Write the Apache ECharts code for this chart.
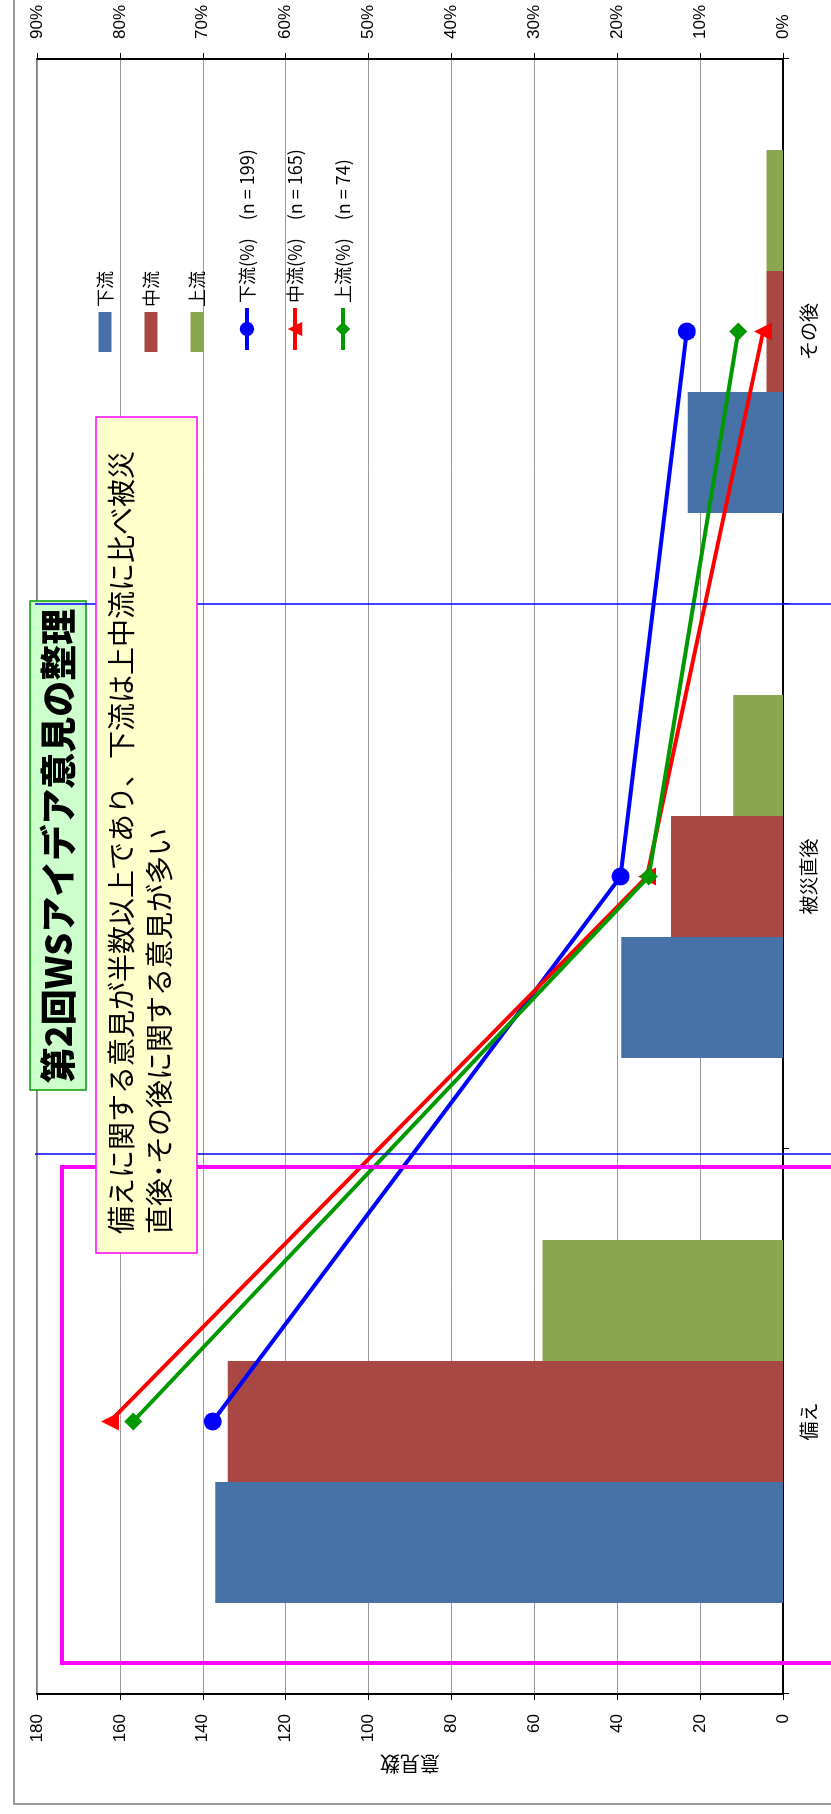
<!DOCTYPE html>
<html>
<head>
<meta charset="utf-8">
<script src="https://cdn.jsdelivr.net/npm/echarts@6/dist/echarts.min.js"></script>
<style>
  html, body { margin: 0; padding: 0; width: 831px; height: 1814px; overflow: hidden; background: #fff; }
  /* the chart is laid out in landscape and turned a quarter turn counter-clockwise */
  #chart { position: absolute; left: 0; top: 0; width: 1814px; height: 831px;
           transform-origin: 0 0; transform: translateY(1814px) rotate(-90deg); }
</style>
</head>
<body>
<div id="chart"></div>
<script>
// phases of the disaster timeline
const categories = ['備え', '被災直後', 'その後'];

// number of opinions per area
const downstream = [137, 39, 23];
const midstream  = [134, 27, 4];
const upstream   = [58, 12, 4];

// share of each area's opinions (%)
const downstreamPct = [68.8, 19.6, 11.6];
const midstreamPct  = [81.2, 16.4, 2.4];
const upstreamPct   = [78.4, 16.2, 5.4];

// axis ranges
const countMax = 180, countStep = 20;
const pctMax = 90, pctStep = 10;

const seriesNames = ['下流', '中流', '上流',
  '下流(%)　(n = 199)', '中流(%)　(n = 165)', '上流(%)　(n = 74)'];

const jp = "'Noto Sans CJK JP', sans-serif";
const num = "'Liberation Sans', Arial, sans-serif";

const chart = echarts.init(document.getElementById('chart'), null,
  { renderer: 'canvas', width: 1814, height: 831 });

const barBase = { type: 'bar', barWidth: 121, barGap: '0%' };
const lineBase = { type: 'line', yAxisIndex: 1, symbolSize: 18, z: 5 };
const legendText = { fontSize: 18, color: '#000', fontFamily: jp };

chart.setOption({
  animation: false,
  backgroundColor: '#ffffff',
  textStyle: { fontFamily: jp },
  grid: { left: 120, right: 59, top: 37, bottom: 48, show: true,
          borderColor: '#000', borderWidth: 1, backgroundColor: 'transparent' },
  legend: [
    { // count series
      orient: 'vertical', left: 1462, top: 96, padding: 0,
      itemWidth: 40, itemHeight: 13, itemGap: 28, textStyle: legendText,
      data: [
        { name: seriesNames[0], icon: 'rect' },
        { name: seriesNames[1], icon: 'rect' },
        { name: seriesNames[2], icon: 'rect' }
      ]
    },
    { // share series
      orient: 'vertical', left: 1462, top: 238, padding: 0,
      itemWidth: 42, itemHeight: 18, itemGap: 30, textStyle: legendText,
      lineStyle: { width: 4 },
      data: [seriesNames[3], seriesNames[4], seriesNames[5]]
    }
  ],
  xAxis: {
    type: 'category', data: categories, boundaryGap: true,
    axisLine: { lineStyle: { color: '#000', width: 2 } },
    axisTick: { show: true, length: 6, lineStyle: { color: '#000', width: 1 } },
    axisLabel: { fontSize: 19, color: '#000', margin: 16, fontFamily: jp },
    splitLine: { show: false }
  },
  yAxis: [
    {
      type: 'value', min: 0, max: countMax, interval: countStep,
      name: '意見数', nameLocation: 'middle', nameRotate: 90, nameGap: 60,
      nameTextStyle: { fontSize: 20, color: '#000', fontFamily: jp },
      axisLine: { show: true, lineStyle: { color: '#000', width: 2 } },
      axisTick: { show: true, length: 6, lineStyle: { color: '#000', width: 1 } },
      axisLabel: { fontSize: 17, color: '#000', margin: 20, fontFamily: num },
      splitLine: { show: true, lineStyle: { color: '#999', width: 1 } }
    },
    {
      type: 'value', position: 'right', min: 0, max: pctMax, interval: pctStep,
      axisLine: { show: true, lineStyle: { color: '#000', width: 2 } },
      axisTick: { show: true, length: 6, lineStyle: { color: '#000', width: 1 } },
      axisLabel: { formatter: '{value}%', fontSize: 17, color: '#000', margin: 20, fontFamily: num },
      splitLine: { show: false }
    }
  ],
  series: [
    Object.assign({}, barBase, { name: seriesNames[0], data: downstream, itemStyle: { color: '#4672A7' } }),
    Object.assign({}, barBase, { name: seriesNames[1], data: midstream,  itemStyle: { color: '#A84744' } }),
    Object.assign({}, barBase, { name: seriesNames[2], data: upstream,   itemStyle: { color: '#8AA64F' } }),
    Object.assign({}, lineBase, { name: seriesNames[3], data: downstreamPct, symbol: 'circle',
      lineStyle: { width: 4, color: '#0000FF' }, itemStyle: { color: '#0000FF' } }),
    Object.assign({}, lineBase, { name: seriesNames[4], data: midstreamPct, symbol: 'triangle',
      lineStyle: { width: 4, color: '#FF0000' }, itemStyle: { color: '#FF0000' } }),
    Object.assign({}, lineBase, { name: seriesNames[5], data: upstreamPct, symbol: 'diamond',
      lineStyle: { width: 4, color: '#009900' }, itemStyle: { color: '#009900' } })
  ],
  graphic: [
    // chart area frame
    { type: 'rect', z: 0, silent: true,
      shape: { x: 10, y: 14, width: 1900, height: 900 },
      style: { fill: 'none', stroke: '#9a9a9a', lineWidth: 2 } },
    // highlight frame around the preparedness group
    { type: 'rect', z: 10, silent: true,
      shape: { x: 151, y: 62, width: 496, height: 820 },
      style: { fill: 'none', stroke: '#FF00FF', lineWidth: 4 } },
    // title box
    { type: 'rect', z: 10, silent: true,
      shape: { x: 724, y: 30, width: 489, height: 56 },
      style: { fill: '#CCFFCC', stroke: '#00A000', lineWidth: 1.5 } },
    { type: 'text', z: 11, silent: true, x: 968, y: 58,
      style: { text: '第2回WSアイデア意見の整理', fontSize: 36, fontWeight: 900,
               fontFamily: jp, fill: '#000', align: 'center', verticalAlign: 'middle' } },
    // phase separators
    { type: 'line', z: 11, silent: true,
      shape: { x1: 660, y1: 35, x2: 660, y2: 831 },
      style: { stroke: '#0000FF', lineWidth: 1.5 } },
    { type: 'line', z: 11, silent: true,
      shape: { x1: 1210, y1: 35, x2: 1210, y2: 831 },
      style: { stroke: '#0000FF', lineWidth: 1.5 } },
    // comment box
    { type: 'rect', z: 12, silent: true,
      shape: { x: 561, y: 96, width: 836, height: 101 },
      style: { fill: '#FFFFCC', stroke: '#FF00FF', lineWidth: 1.5 } },
    { type: 'text', z: 13, silent: true, x: 580, y: 102,
      style: { text: '備えに関する意見が半数以上であり、下流は上中流に比べ被災\n直後･その後に関する意見が多い',
               fontSize: 28, lineHeight: 38, fontFamily: jp, fill: '#000',
               align: 'left', verticalAlign: 'top' } }
  ]
});
</script>
</body>
</html>
